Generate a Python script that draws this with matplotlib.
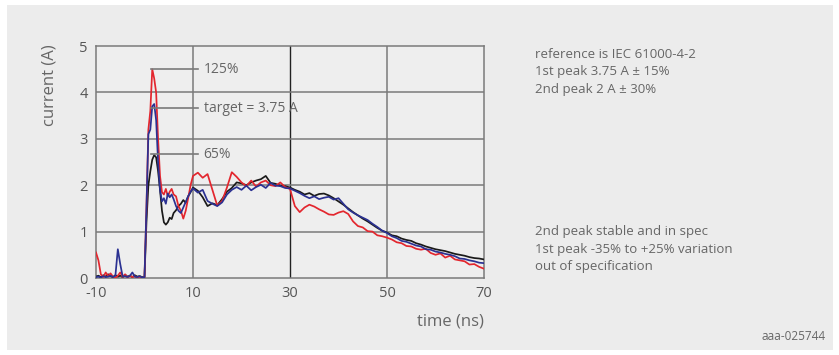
import matplotlib.pyplot as plt
from matplotlib.patches import Rectangle

plt.rcParams['font.family'] = ['Open Sans', 'DejaVu Sans']
plt.rcParams['axes.unicode_minus'] = False

# time axis (ns): fine steps around the first peak, 1 ns afterwards
t_ns = [-10, -9.5, -9, -8.5, -8, -7.5, -7, -6.5, -6, -5.5, -5, -4.5, -4, -3.5, -3,
        -2.5, -2, -1.5, -1, -0.5, 0,
        0.4, 0.8, 1.2, 1.6, 2.0, 2.4, 2.8, 3.2, 3.6, 4.0, 4.4, 4.8, 5.2, 5.6, 6.0,
        6.5, 7.0, 7.5, 8.0, 8.5, 9.0, 9.5, 10.0] + list(range(11, 71))

current_red = [0.55, 0.38, 0.08, 0.02, 0.12, 0.04, 0.1, 0.03, 0.0, 0.05, 0.12, 0.02,
               0.08, 0.01, 0.05, 0.02, 0.04, 0.0, 0.03, 0.0, 0.02,
               1.5, 3.2, 3.6, 4.5, 4.3, 4.0, 3.0, 2.2, 1.85, 1.8, 1.92, 1.76, 1.86, 1.92,
               1.8, 1.76, 1.55, 1.45, 1.28, 1.45, 1.72, 2.0, 2.2,
               2.27, 2.16, 2.24, 1.9, 1.56, 1.66, 1.95, 2.28, 2.18, 2.06, 1.98, 2.1, 1.97,
               2.06, 2.1, 2.0, 1.98, 2.06, 1.96, 1.92, 1.55, 1.42, 1.52, 1.58, 1.54, 1.48,
               1.43, 1.37, 1.36, 1.41, 1.44, 1.38, 1.22, 1.12, 1.09, 1.01, 1.0, 0.92, 0.9,
               0.87, 0.83, 0.77, 0.75, 0.69, 0.68, 0.63, 0.61, 0.63, 0.54, 0.5, 0.53,
               0.44, 0.48, 0.4, 0.38, 0.36, 0.29, 0.3, 0.24, 0.2]

current_blue = [0.02, 0.03, 0.01, 0.04, 0.02, 0.03, 0.05, 0.02, 0.05, 0.62, 0.3, 0.03,
                0.04, 0.02, 0.05, 0.12, 0.03, 0.02, 0.04, 0.01, 0.02,
                1.5, 3.1, 3.2, 3.7, 3.75, 3.4, 2.5, 1.9, 1.65, 1.72, 1.6, 1.82, 1.74, 1.8,
                1.7, 1.55, 1.45, 1.4, 1.52, 1.64, 1.76, 1.86, 1.93,
                1.84, 1.9, 1.66, 1.6, 1.55, 1.63, 1.8, 1.9, 1.96, 1.9, 1.99, 1.89, 1.96,
                2.01, 1.94, 2.05, 1.99, 1.98, 1.94, 1.93, 1.88, 1.83, 1.77, 1.72, 1.76,
                1.7, 1.73, 1.75, 1.69, 1.72, 1.6, 1.48, 1.41, 1.35, 1.3, 1.25, 1.17, 1.1,
                1.02, 0.97, 0.9, 0.86, 0.8, 0.78, 0.74, 0.7, 0.68, 0.62, 0.61, 0.57,
                0.55, 0.52, 0.5, 0.47, 0.42, 0.41, 0.38, 0.36, 0.33, 0.32]

current_black = [0.03, 0.05, 0.02, 0.06, 0.03, 0.08, 0.04, 0.02, 0.06, 0.03, 0.05, 0.02,
                 0.07, 0.03, 0.05, 0.02, 0.06, 0.03, 0.04, 0.02, 0.02,
                 1.2, 2.0, 2.3, 2.55, 2.65, 2.6, 2.3, 1.9, 1.45, 1.2, 1.15, 1.2, 1.3,
                 1.27, 1.4, 1.46, 1.55, 1.6, 1.68, 1.62, 1.76, 1.85, 1.95,
                 1.88, 1.74, 1.55, 1.61, 1.57, 1.7, 1.86, 1.94, 2.06, 2.04, 2.0, 2.06,
                 2.1, 2.13, 2.2, 2.05, 2.03, 1.99, 1.98, 1.95, 1.9, 1.86, 1.8, 1.83,
                 1.77, 1.81, 1.82, 1.78, 1.72, 1.65, 1.58, 1.5, 1.42, 1.35, 1.28, 1.22,
                 1.15, 1.08, 1.02, 0.98, 0.92, 0.9, 0.85, 0.82, 0.8, 0.75, 0.72, 0.68,
                 0.65, 0.62, 0.6, 0.58, 0.55, 0.52, 0.5, 0.48, 0.45, 0.43, 0.42, 0.4]

peak_levels = [4.5, 3.66, 2.67]
peak_labels = ['125%', 'target = 3.75 A', '65%']
peak_time = 1.3
label_time = 11.0

notes_top = 'reference is IEC 61000-4-2\n1st peak 3.75 A ± 15%\n2nd peak 2 A ± 30%'
notes_bottom = '2nd peak stable and in spec\n1st peak -35% to +25% variation\nout of specification'

bg = '#ececec'
grey = '#7a7a7a'
text_col = '#666666'

fig = plt.figure(figsize=(8.39, 3.55), dpi=100, facecolor='white')
fig.patches.append(Rectangle((7 / 839, 5 / 355), 826 / 839, 345 / 355,
                             transform=fig.transFigure, facecolor=bg,
                             edgecolor='none', zorder=-10))
ax = fig.add_axes([96 / 839, 77 / 355, 388 / 839, 232 / 355])
ax.set_facecolor('#eeeeee')

ax.plot(t_ns, current_black, color='#1a1a1a', lw=1.25, zorder=3)
ax.plot(t_ns, current_red, color='#e3262e', lw=1.25, zorder=4)
ax.plot(t_ns, current_blue, color='#2b3192', lw=1.25, zorder=5)

for level, label in zip(peak_levels, peak_labels):
    ax.plot([peak_time, label_time], [level, level], color=grey, lw=1.2, zorder=6)
    ax.text(label_time + 1.2, level, label, fontsize=10, color=text_col,
            va='center', ha='left', zorder=6)

ax.set_xlim(-10, 70)
ax.set_ylim(0, 5)
ax.set_xticks([-10, 10, 30, 50, 70])
ax.set_yticks([0, 1, 2, 3, 4, 5])
ax.tick_params(length=0, labelsize=10.5, labelcolor='#555555', pad=6)
for x in [10, 50]:
    ax.axvline(x, color=grey, lw=1.1, zorder=1)
ax.axvline(30, color='#222222', lw=1.0, zorder=1)
for y in [1, 2, 3, 4]:
    ax.axhline(y, color=grey, lw=1.1, zorder=1)
for s in ax.spines.values():
    s.set_color(grey)
    s.set_linewidth(1.1)

fig.text(50 / 839, 1 - 44 / 355, 'current (A)', rotation=90, fontsize=12,
         color=text_col, ha='center', va='top')
fig.text(484 / 839, 1 - 322 / 355, 'time (ns)', fontsize=12, color=text_col,
         ha='right', va='center')
fig.text(535 / 839, 1 - 72 / 355, notes_top, fontsize=9.5, color=text_col,
         ha='left', va='center', linespacing=1.45)
fig.text(535 / 839, 1 - 249 / 355, notes_bottom, fontsize=9.5, color=text_col,
         ha='left', va='center', linespacing=1.45)
fig.text(826 / 839, 1 - 337 / 355, 'aaa-025744', fontsize=8.5, color=text_col,
         ha='right', va='center')

fig.savefig('out.png', dpi=100, facecolor=fig.get_facecolor())
